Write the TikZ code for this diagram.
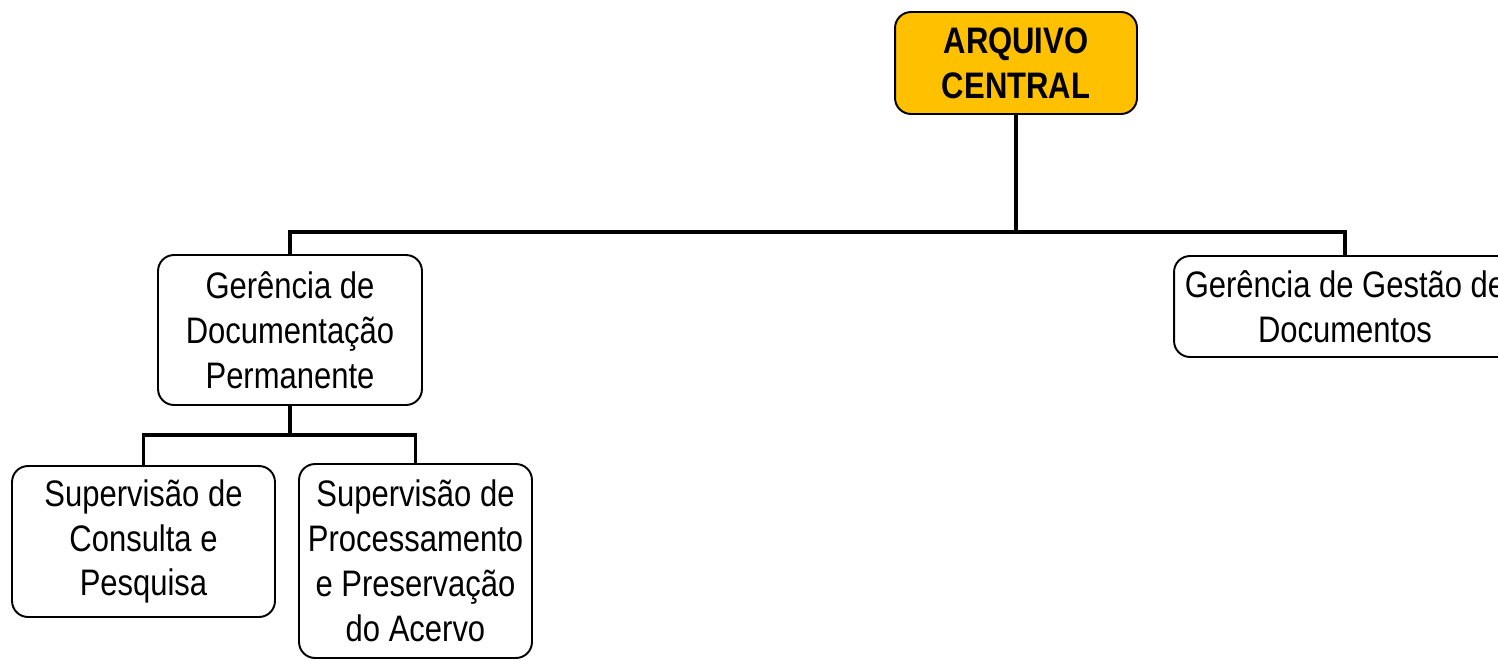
\documentclass[tikz,border=0pt]{standalone}
\usepackage{fontspec}
\setmainfont{Liberation Sans}[FakeStretch=0.84]
\definecolor{arqgold}{HTML}{FFC000}
\tikzstyle{unit}=[draw,line width=1.1pt,rounded corners=0.32cm,align=center,inner sep=0pt,font=\fontsize{21}{25.5}\selectfont]
\tikzstyle{unit_head}=[unit,fill=arqgold,font=\fontsize{21}{25.5}\selectfont\bfseries]
\tikzstyle{link}=[line width=2.2pt]

\begin{document}
\begin{tikzpicture}[x=0.02cm,y=-0.02cm]  % pixel grid of the chart

\useasboundingbox (0,0) rectangle (1498,660);
\clip (0,0) rectangle (1498,660);

\node[unit_head,minimum width=4.84cm,minimum height=2.04cm] (central) at (1016,63) {ARQUIVO\\CENTRAL};

\node[unit,minimum width=5.28cm,minimum height=3.0cm] (gdp) at (290,330)
      {Gerência de\\Documentação\\Permanente};
\node[unit,minimum width=6.84cm,minimum height=2.02cm] (ggd) at (1345,306.5)
      {Gerência de Gestão de\\Documentos};

\node[unit,minimum width=5.26cm,minimum height=3.02cm] (scp) at (143.5,541.5)
      {Supervisão de\\Consulta e\\Pesquisa};
\node[unit,minimum width=4.66cm,minimum height=3.88cm] (spp) at (415.5,561)
      {Supervisão de\\Processamento\\e Preservação\\do Acervo};

% upper level
\coordinate (busA) at (1016,232);
\draw[link] (central.south) -- (busA);
\draw[link] (gdp.north) |- (busA) -| (ggd.north);

% lower level
\coordinate (busB) at (290,435);
\draw[link] (gdp.south) -- (busB);
\draw[link] (scp.north) |- (busB) -| (spp.north);

\end{tikzpicture}
\end{document}
